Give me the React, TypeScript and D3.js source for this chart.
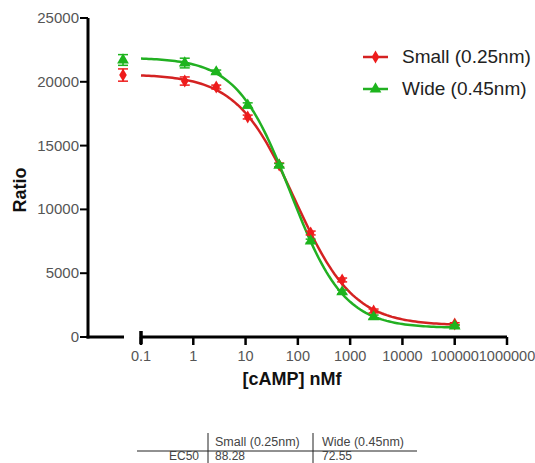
import React from "react";
import * as d3 from "d3";

// concentrations (nM); 0 is drawn on the short left axis segment
const conc = [0, 0.6866, 2.747, 10.99, 43.95, 175.8, 703.1, 2812, 100000];
const smallVals = [20530, 20060, 19590, 17240, 13480, 8150, 4470, 2040, 1020];
const smallErr = [480, 320, 150, 150, 150, 150, 150, 150, 100];
const wideVals = [21710, 21470, 20770, 18150, 13450, 7520, 3530, 1570, 860];
const wideErr = [420, 380, 150, 200, 150, 150, 150, 150, 100];

// four parameter fits: top, bottom, EC50, hill
const smallFit = [20600, 900, 88.28, 0.78];
const wideFit = [21900, 700, 72.55, 0.85];

const yTicks = [0, 5000, 10000, 15000, 20000, 25000];
const xTicks = [0.1, 1, 10, 100, 1000, 10000, 100000, 1000000];
const xTickLabels = ["0.1", "1", "10", "100", "1000", "10000", "100000", "1000000"];

const tableHead = ["Small (0.25nm)", "Wide (0.45nm)"];
const tableRow = ["EC50", "88.28", "72.55"];

const RED = "#ee1c1c";
const RED_LINE = "#d42222";
const GREEN = "#1db41d";
const GREEN_LINE = "#22b022";

const App = () => {
    const axisX = 88;
    const brokenEnd = 123;
    const x = d3.scaleLog().domain([0.1, 1000000]).range([141, 507]);
    const y = d3.scaleLinear().domain([0, 25000]).range([337, 18]);

    const px = (c) => (c === 0 ? brokenEnd : x(c));

    const fitPath = (p) => {
        const [top, bottom, ec50, hill] = p;
        const xs = d3.range(-1, 5.0001, 0.05).map(v => Math.pow(10, v));
        return d3.line()
            .x(d => x(d))
            .y(d => y(bottom + (top - bottom) / (1 + Math.pow(d / ec50, hill))))(xs);
    };

    const diamond = d3.symbol().type(d3.symbolDiamond).size(50)();
    const triangle = d3.symbol().type(d3.symbolTriangle).size(60)();

    const series = [
        { vals: smallVals, err: smallErr, fit: smallFit, color: RED, line: RED_LINE, sym: diamond },
        { vals: wideVals, err: wideErr, fit: wideFit, color: GREEN, line: GREEN_LINE, sym: triangle },
    ];

    const font = "'Liberation Sans', Arial, sans-serif";

    return (
        <svg width={535} height={463} viewBox="0 0 535 463"
            style={{ position: "absolute", left: 0, top: 0, background: "#fff", fontFamily: font }}>
            {/* Y axis */}
            <line x1={axisX} x2={axisX} y1={y(25000)} y2={y(0) + 1.5} stroke="#000" strokeWidth={3} />
            {yTicks.map((t, i) => (
                <g key={i} transform={`translate(0,${y(t)})`}>
                    <line x1={axisX - 8} x2={axisX} stroke="#000" strokeWidth={2} />
                    <text x={axisX - 9} y={5} textAnchor="end" fontSize={15} fill="#555">{t}</text>
                </g>
            ))}
            <text transform="rotate(-90)" x={-190} y={26} textAnchor="middle" fontSize={18} fontWeight="bold" fill="#111">Ratio</text>

            {/* X axis, broken */}
            <line x1={axisX - 1.5} x2={brokenEnd + 1} y1={y(0)} y2={y(0)} stroke="#000" strokeWidth={3} />
            <line x1={x(0.1)} x2={x(1000000)} y1={y(0)} y2={y(0)} stroke="#000" strokeWidth={3} />
            <line x1={x(0.1)} x2={x(0.1)} y1={y(0) - 6} y2={y(0) + 7} stroke="#000" strokeWidth={3.5} />
            {xTicks.map((t, i) => (
                <g key={i} transform={`translate(${x(t)},${y(0)})`}>
                    <line y1={0} y2={8} stroke="#000" strokeWidth={2.5} />
                    <text y={24} textAnchor="middle" fontSize={14.5} fill="#555">{xTickLabels[i]}</text>
                </g>
            ))}
            <text x={292} y={385} textAnchor="middle" fontSize={18} fontWeight="bold" fill="#111">[cAMP] nMf</text>

            {/* fit curves */}
            {series.map((s, i) => (
                <path key={i} d={fitPath(s.fit)} fill="none" stroke={s.line} strokeWidth={2.5} />
            ))}

            {/* points + error bars */}
            {series.map((s, si) => (
                <g key={si}>
                    {conc.map((c, i) => {
                        const cx = px(c);
                        const top = y(s.vals[i] + s.err[i]);
                        const bot = y(s.vals[i] - s.err[i]);
                        return (
                            <g key={i}>
                                <line x1={cx} x2={cx} y1={top} y2={bot} stroke={s.color} strokeWidth={1.5} />
                                <line x1={cx - 5} x2={cx + 5} y1={top} y2={top} stroke={s.color} strokeWidth={1.5} />
                                <line x1={cx - 5} x2={cx + 5} y1={bot} y2={bot} stroke={s.color} strokeWidth={1.5} />
                                <path d={s.sym} transform={`translate(${cx},${y(s.vals[i])})`} fill={s.color} />
                            </g>
                        );
                    })}
                </g>
            ))}

            {/* legend */}
            {series.map((s, i) => (
                <g key={i} transform={`translate(363,${57 + i * 32})`}>
                    <line x1={0} x2={25} stroke={s.line} strokeWidth={2.5} />
                    <path d={s.sym} transform="translate(12.5,0)" fill={s.color} />
                    <text x={39} y={6} fontSize={19} fill="#222">{tableHead[i]}</text>
                </g>
            ))}

            {/* EC50 table */}
            <line x1={208} x2={208} y1={433} y2={463} stroke="#222" strokeWidth={1} />
            <line x1={313} x2={313} y1={433} y2={463} stroke="#222" strokeWidth={1} />
            <line x1={137} x2={417} y1={451} y2={451} stroke="#222" strokeWidth={1} />
            <text x={215} y={446} fontSize={12.5} fill="#444">{tableHead[0]}</text>
            <text x={322} y={446} fontSize={12.5} fill="#444">{tableHead[1]}</text>
            <text x={199} y={459.5} textAnchor="end" fontSize={12} fill="#444">{tableRow[0]}</text>
            <text x={215} y={459.5} fontSize={12} fill="#444">{tableRow[1]}</text>
            <text x={322} y={459.5} fontSize={12} fill="#444">{tableRow[2]}</text>
        </svg>
    );
};

export default App;
